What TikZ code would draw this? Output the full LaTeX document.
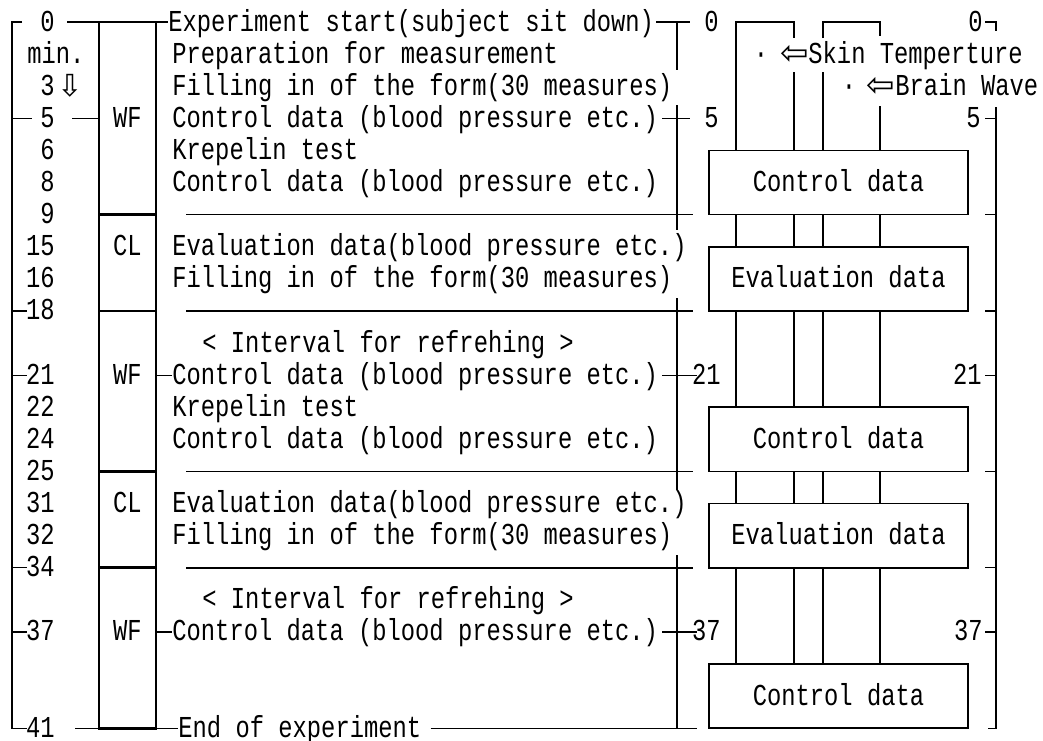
\documentclass[tikz,border=0pt]{standalone}
\usepackage{fontspec}
\newfontfamily\chartfont{Liberation Mono}[FakeStretch=0.783]
\newfontfamily\arrowfont{DejaVu Sans}
\newcommand{\chartsize}{\fontsize{15.2}{17}\selectfont}
\newcommand{\arrowsize}{\fontsize{17}{19}\selectfont}
\newcommand{\stepText}[4]{%%
  %% One line of the procedure: name, left edge, row, text.
  \node[textStyle] (#1) at (#2,{row(#3)}) {#4};
}

\begin{document}
\begin{tikzpicture}[%%
  x=0.5pt,y=-0.5pt,%%
  declare function={row(\i)=22+32.1*\i;},%%
  axisStyle/.style={line width=0.6pt},%%
  ruleStyle/.style={line width=0.8pt},%%
  frameStyle/.style={line width=1.4pt},%%
  textStyle/.style={font=\chartfont\chartsize,inner sep=0pt,text height=11.5pt,text depth=2.5pt,anchor=west},%%
  numStyle/.style={textStyle,anchor=east},%%
  dataStyle/.style={draw,line width=0.8pt,font=\chartfont\chartsize,inner sep=0pt,%%
    text height=11.5pt,text depth=2.5pt,minimum width=129.5pt,minimum height=32.1pt},%%
  arrowStyle/.style={font=\arrowfont\arrowsize,inner sep=0pt,text height=10pt,text depth=0pt,anchor=west}%%
]
\useasboundingbox (0,0) rectangle (1043,740);
%%
%% The minutes on the left.
\foreach \r/\m in {0/0,3/5,4/6,5/8,6/9,7/15,8/16,9/18,11/21,12/22,13/24,14/25,15/31,16/32,17/34,19/37,22/41}
  \node[numStyle] (m\m) at (55,{row(\r)}) {\m};
\node[textStyle] (unit) at (27,{row(1)}) {min.};
\node[numStyle] (m3) at (55,{row(2)}) {3};
\node[arrowStyle,font=\arrowfont\chartsize] (down) at (57,{row(2)}) {⇩};
%% The left time axis and its ticks.
\draw[axisStyle] (22,{row(0)}) -- (12,{row(0)}) -- (12,{row(22)}) -- (27,{row(22)});
\draw[axisStyle] (12,{row(3)}) -- (32,{row(3)});
\foreach \r in {9,11,17,19}
  \draw[axisStyle] (12,{row(\r)}) -- (27,{row(\r)});
\draw[axisStyle] (67,{row(0)}) -- (99,{row(0)});
\draw[axisStyle] (72,{row(3)}) -- (99,{row(3)});
\draw[axisStyle] (75,{row(22)}) -- (99,{row(22)});
%%
%% The column of phases.
\draw[frameStyle] (99,{row(0)}) rectangle (156,{row(22)});
\foreach \r in {6,9,14,17}
  \draw[frameStyle] (99,{row(\r)}) -- (156,{row(\r)});
\foreach \r in {3,11,19}
  \node[textStyle,anchor=center] at (127.5,{row(\r)}) {WF};
\foreach \r in {7,15}
  \node[textStyle,anchor=center] at (127.5,{row(\r)}) {CL};
%%
%% The procedure.
\stepText{start}{168}{0}{Experiment start(subject sit down)}
\stepText{prep}{172}{1}{Preparation for measurement}
\stepText{formA}{172}{2}{Filling in of the form(30 measures)}
\stepText{ctrlTxtA}{172}{3}{Control data (blood pressure etc.)}
\stepText{krepA}{172}{4}{Krepelin test}
\stepText{ctrlTxtB}{172}{5}{Control data (blood pressure etc.)}
\stepText{evalTxtA}{172}{7}{Evaluation data(blood pressure etc.)}
\stepText{formB}{172}{8}{Filling in of the form(30 measures)}
\stepText{restA}{202}{10}{< Interval for refrehing >}
\stepText{ctrlTxtC}{172}{11}{Control data (blood pressure etc.)}
\stepText{krepB}{172}{12}{Krepelin test}
\stepText{ctrlTxtD}{172}{13}{Control data (blood pressure etc.)}
\stepText{evalTxtB}{172}{15}{Evaluation data(blood pressure etc.)}
\stepText{formC}{172}{16}{Filling in of the form(30 measures)}
\stepText{restB}{202}{18}{< Interval for refrehing >}
\stepText{ctrlTxtE}{172}{19}{Control data (blood pressure etc.)}
\stepText{finish}{178}{22}{End of experiment}
%% Leaders from the phase column to the text.
\draw[axisStyle] (156,{row(0)}) -- (start.west);
\draw[axisStyle] (156,{row(11)}) -- (ctrlTxtC.west);
\draw[axisStyle] (156,{row(19)}) -- (ctrlTxtE.west);
\draw[axisStyle] (156,{row(22)}) -- (finish.west);
%% Rules between the phases.
\foreach \r in {6,9,14,17}
  \draw[ruleStyle] (186,{row(\r)}) -- (693,{row(\r)});
%%
%% The middle time axis, broken where long lines of text pass.
\foreach \ya/\yb in {22/70,105/230,298/490,555/728}
  \draw[axisStyle] (677,\ya) -- (677,\yb);
\draw[axisStyle] (start.east) ++(2,0) -- (690,{row(0)});
\draw[axisStyle] (ctrlTxtA.east) ++(4,0) -- (690,{row(3)});
\draw[axisStyle] (ctrlTxtC.east) ++(4,0) -- (697,{row(11)});
\draw[axisStyle] (ctrlTxtE.east) ++(4,0) -- (697,{row(19)});
\draw[axisStyle] (finish.east) ++(9,0) -- (697,{row(22)});
\node[numStyle] (midA) at (719,{row(0)}) {0};
\node[numStyle] (midB) at (719,{row(3)}) {5};
\node[numStyle] (midC) at (721,{row(11)}) {21};
\node[numStyle] (midD) at (721,{row(19)}) {37};
%%
%% The measuring blocks.
\node[dataStyle] (ctrlA) at (838.5,{row(5)}) {Control data};
\node[dataStyle] (evalA) at (838.5,{row(8)}) {Evaluation data};
\node[dataStyle] (ctrlB) at (838.5,{row(13)}) {Control data};
\node[dataStyle] (evalB) at (838.5,{row(16)}) {Evaluation data};
\node[dataStyle] (ctrlC) at (838.5,{row(21)}) {Control data};
%% Skin temperature and brain wave leads.
\draw[axisStyle] (736,0 |- ctrlA.north) -- (736,{row(0)}) -- (794,{row(0)}) -- (794,38);
\draw[axisStyle] (794,72) -- (794,0 |- ctrlA.north);
\draw[axisStyle] (823,38) -- (823,{row(0)}) -- (880,{row(0)}) -- (880,36);
\draw[axisStyle] (823,72) -- (823,0 |- ctrlA.north);
\draw[axisStyle] (880,106) -- (880,0 |- ctrlA.north);
\foreach \lx in {736,794,823,880}
  \foreach \upper/\lower in {ctrlA/evalA,evalA/ctrlB,ctrlB/evalB,evalB/ctrlC}
    \draw[axisStyle] (\lx,0 |- \upper.south) -- (\lx,0 |- \lower.north);
\node[textStyle,anchor=center] (dotA) at (761,{row(1)}) {·};
\node[arrowStyle] (arrA) at (780,{row(1)}) {⇦};
\node[textStyle] (skin) at (808,{row(1)}) {Skin Temperture};
\node[textStyle,anchor=center] (dotB) at (849,{row(2)}) {·};
\node[arrowStyle] (arrB) at (866,{row(2)}) {⇦};
\node[textStyle] (brain) at (895,{row(2)}) {Brain Wave};
%%
%% The right time axis.
\draw[axisStyle] (985,{row(0)}) -- (996,{row(0)}) -- (996,31);
\draw[axisStyle] (996,107) -- (996,{row(22)}) -- (988,{row(22)});
\foreach \r in {3,6,9,11,14,17,19}
  \draw[axisStyle] (985,{row(\r)}) -- (996,{row(\r)});
\node[numStyle] (endA) at (983,{row(0)}) {0};
\node[numStyle] (endB) at (981,{row(3)}) {5};
\node[numStyle] (endC) at (982,{row(11)}) {21};
\node[numStyle] (endD) at (983,{row(19)}) {37};
\end{tikzpicture}
\end{document}
